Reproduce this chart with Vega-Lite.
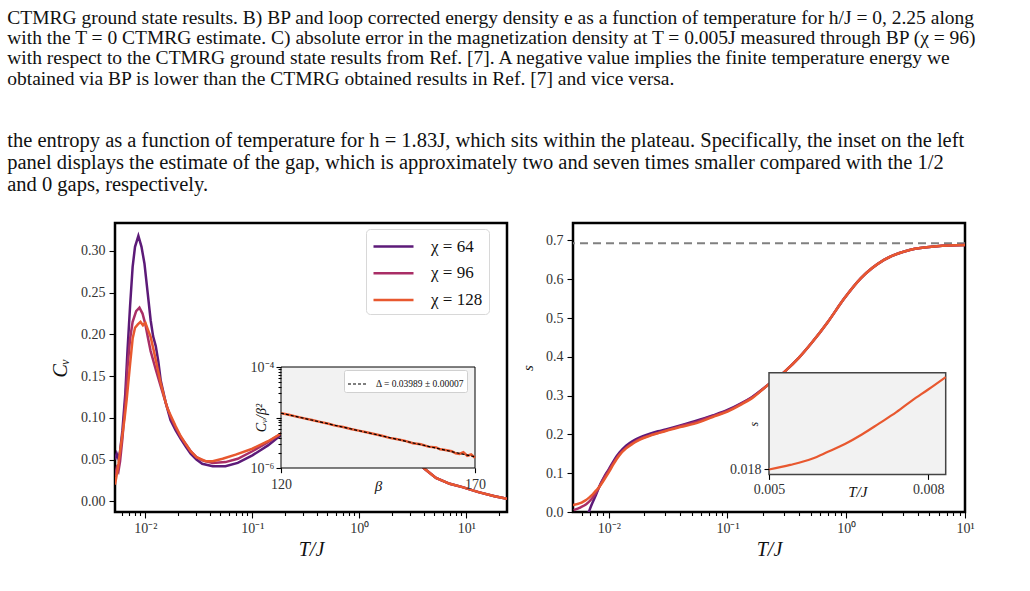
{
  "$schema": "https://vega.github.io/schema/vega-lite/v6.json",
  "padding": {"left": 7, "top": 7, "right": 4, "bottom": 4},
  "background": "white",
  "title": {
    "text": [
      "CTMRG ground state results. B) BP and loop corrected energy density e as a function of temperature for h/J = 0, 2.25 along",
      "with the T = 0 CTMRG estimate. C) absolute error in the magnetization density at T = 0.005J measured through BP (χ = 96)",
      "with respect to the CTMRG ground state results from Ref. [7]. A negative value implies the finite temperature energy we",
      "obtained via BP is lower than the CTMRG obtained results in Ref. [7] and vice versa."
    ],
    "subtitle": [
      "the entropy as a function of temperature for h = 1.83J, which sits within the plateau. Specifically, the inset on the left",
      "panel displays the estimate of the gap, which is approximately two and seven times smaller compared with the 1/2",
      "and 0 gaps, respectively."
    ],
    "anchor": "start",
    "frame": "bounds",
    "dx": -42,
    "font": "Liberation Serif",
    "fontSize": 19.5,
    "fontWeight": "normal",
    "color": "#111111",
    "lineHeight": 20.3,
    "subtitleFont": "Liberation Serif",
    "subtitleFontSize": 20.5,
    "subtitleColor": "#111111",
    "subtitleLineHeight": 22,
    "subtitlePadding": 42,
    "offset": 25
  },
  "datasets": {
    "cv": [
      {"T": 0.0052, "Cv": 0.050, "chi": "χ = 64"},
      {"T": 0.0054, "Cv": 0.057, "chi": "χ = 64"},
      {"T": 0.0056, "Cv": 0.051, "chi": "χ = 64"},
      {"T": 0.0058, "Cv": 0.060, "chi": "χ = 64"},
      {"T": 0.0061, "Cv": 0.085, "chi": "χ = 64"},
      {"T": 0.0065, "Cv": 0.130, "chi": "χ = 64"},
      {"T": 0.0068, "Cv": 0.180, "chi": "χ = 64"},
      {"T": 0.0072, "Cv": 0.235, "chi": "χ = 64"},
      {"T": 0.0076, "Cv": 0.281, "chi": "χ = 64"},
      {"T": 0.0080, "Cv": 0.305, "chi": "χ = 64"},
      {"T": 0.0086, "Cv": 0.318, "chi": "χ = 64"},
      {"T": 0.0092, "Cv": 0.305, "chi": "χ = 64"},
      {"T": 0.0098, "Cv": 0.285, "chi": "χ = 64"},
      {"T": 0.0105, "Cv": 0.250, "chi": "χ = 64"},
      {"T": 0.0112, "Cv": 0.217, "chi": "χ = 64"},
      {"T": 0.0118, "Cv": 0.198, "chi": "χ = 64"},
      {"T": 0.0125, "Cv": 0.186, "chi": "χ = 64"},
      {"T": 0.0132, "Cv": 0.168, "chi": "χ = 64"},
      {"T": 0.0139, "Cv": 0.145, "chi": "χ = 64"},
      {"T": 0.0155, "Cv": 0.118, "chi": "χ = 64"},
      {"T": 0.0172, "Cv": 0.097, "chi": "χ = 64"},
      {"T": 0.0192, "Cv": 0.085, "chi": "χ = 64"},
      {"T": 0.0214, "Cv": 0.075, "chi": "χ = 64"},
      {"T": 0.0240, "Cv": 0.065, "chi": "χ = 64"},
      {"T": 0.0265, "Cv": 0.057, "chi": "χ = 64"},
      {"T": 0.0300, "Cv": 0.050, "chi": "χ = 64"},
      {"T": 0.0340, "Cv": 0.045, "chi": "χ = 64"},
      {"T": 0.0426, "Cv": 0.042, "chi": "χ = 64"},
      {"T": 0.0560, "Cv": 0.042, "chi": "χ = 64"},
      {"T": 0.0730, "Cv": 0.046, "chi": "χ = 64"},
      {"T": 0.1000, "Cv": 0.055, "chi": "χ = 64"},
      {"T": 0.1400, "Cv": 0.067, "chi": "χ = 64"},
      {"T": 0.1840, "Cv": 0.079, "chi": "χ = 64"},
      {"T": 0.25, "Cv": 0.092, "chi": "χ = 64"},
      {"T": 0.35, "Cv": 0.105, "chi": "χ = 64"},
      {"T": 0.5, "Cv": 0.115, "chi": "χ = 64"},
      {"T": 0.7, "Cv": 0.120, "chi": "χ = 64"},
      {"T": 1.0, "Cv": 0.118, "chi": "χ = 64"},
      {"T": 1.4, "Cv": 0.105, "chi": "χ = 64"},
      {"T": 2.0, "Cv": 0.085, "chi": "χ = 64"},
      {"T": 2.8, "Cv": 0.062, "chi": "χ = 64"},
      {"T": 4.07, "Cv": 0.039, "chi": "χ = 64"},
      {"T": 5.2, "Cv": 0.028, "chi": "χ = 64"},
      {"T": 7.0, "Cv": 0.021, "chi": "χ = 64"},
      {"T": 9.2, "Cv": 0.017, "chi": "χ = 64"},
      {"T": 13, "Cv": 0.011, "chi": "χ = 64"},
      {"T": 18.4, "Cv": 0.006, "chi": "χ = 64"},
      {"T": 24, "Cv": 0.003, "chi": "χ = 64"},

      {"T": 0.0052, "Cv": 0.030, "chi": "χ = 96"},
      {"T": 0.0054, "Cv": 0.040, "chi": "χ = 96"},
      {"T": 0.0056, "Cv": 0.036, "chi": "χ = 96"},
      {"T": 0.0058, "Cv": 0.048, "chi": "χ = 96"},
      {"T": 0.0061, "Cv": 0.075, "chi": "χ = 96"},
      {"T": 0.0065, "Cv": 0.120, "chi": "χ = 96"},
      {"T": 0.0068, "Cv": 0.160, "chi": "χ = 96"},
      {"T": 0.0072, "Cv": 0.195, "chi": "χ = 96"},
      {"T": 0.0076, "Cv": 0.215, "chi": "χ = 96"},
      {"T": 0.0082, "Cv": 0.228, "chi": "χ = 96"},
      {"T": 0.0088, "Cv": 0.232, "chi": "χ = 96"},
      {"T": 0.0094, "Cv": 0.225, "chi": "χ = 96"},
      {"T": 0.0100, "Cv": 0.212, "chi": "χ = 96"},
      {"T": 0.0106, "Cv": 0.195, "chi": "χ = 96"},
      {"T": 0.0112, "Cv": 0.180, "chi": "χ = 96"},
      {"T": 0.0125, "Cv": 0.158, "chi": "χ = 96"},
      {"T": 0.0139, "Cv": 0.138, "chi": "χ = 96"},
      {"T": 0.0155, "Cv": 0.118, "chi": "χ = 96"},
      {"T": 0.0172, "Cv": 0.101, "chi": "χ = 96"},
      {"T": 0.0192, "Cv": 0.088, "chi": "χ = 96"},
      {"T": 0.0214, "Cv": 0.077, "chi": "χ = 96"},
      {"T": 0.0240, "Cv": 0.068, "chi": "χ = 96"},
      {"T": 0.0265, "Cv": 0.060, "chi": "χ = 96"},
      {"T": 0.0300, "Cv": 0.053, "chi": "χ = 96"},
      {"T": 0.0340, "Cv": 0.049, "chi": "χ = 96"},
      {"T": 0.0426, "Cv": 0.046, "chi": "χ = 96"},
      {"T": 0.0560, "Cv": 0.047, "chi": "χ = 96"},
      {"T": 0.0730, "Cv": 0.051, "chi": "χ = 96"},
      {"T": 0.1000, "Cv": 0.060, "chi": "χ = 96"},
      {"T": 0.1400, "Cv": 0.071, "chi": "χ = 96"},
      {"T": 0.1840, "Cv": 0.081, "chi": "χ = 96"},
      {"T": 0.25, "Cv": 0.093, "chi": "χ = 96"},
      {"T": 0.35, "Cv": 0.105, "chi": "χ = 96"},
      {"T": 0.5, "Cv": 0.115, "chi": "χ = 96"},
      {"T": 0.7, "Cv": 0.120, "chi": "χ = 96"},
      {"T": 1.0, "Cv": 0.118, "chi": "χ = 96"},
      {"T": 1.4, "Cv": 0.105, "chi": "χ = 96"},
      {"T": 2.0, "Cv": 0.085, "chi": "χ = 96"},
      {"T": 2.8, "Cv": 0.062, "chi": "χ = 96"},
      {"T": 4.07, "Cv": 0.039, "chi": "χ = 96"},
      {"T": 5.2, "Cv": 0.028, "chi": "χ = 96"},
      {"T": 7.0, "Cv": 0.021, "chi": "χ = 96"},
      {"T": 9.2, "Cv": 0.017, "chi": "χ = 96"},
      {"T": 13, "Cv": 0.011, "chi": "χ = 96"},
      {"T": 18.4, "Cv": 0.006, "chi": "χ = 96"},
      {"T": 24, "Cv": 0.003, "chi": "χ = 96"},

      {"T": 0.0052, "Cv": 0.020, "chi": "χ = 128"},
      {"T": 0.0054, "Cv": 0.032, "chi": "χ = 128"},
      {"T": 0.0056, "Cv": 0.045, "chi": "χ = 128"},
      {"T": 0.0058, "Cv": 0.060, "chi": "χ = 128"},
      {"T": 0.0061, "Cv": 0.080, "chi": "χ = 128"},
      {"T": 0.0064, "Cv": 0.100, "chi": "χ = 128"},
      {"T": 0.0067, "Cv": 0.123, "chi": "χ = 128"},
      {"T": 0.0072, "Cv": 0.165, "chi": "χ = 128"},
      {"T": 0.0076, "Cv": 0.195, "chi": "χ = 128"},
      {"T": 0.0080, "Cv": 0.208, "chi": "χ = 128"},
      {"T": 0.0085, "Cv": 0.212, "chi": "χ = 128"},
      {"T": 0.0090, "Cv": 0.215, "chi": "χ = 128"},
      {"T": 0.0095, "Cv": 0.211, "chi": "χ = 128"},
      {"T": 0.0100, "Cv": 0.214, "chi": "χ = 128"},
      {"T": 0.0106, "Cv": 0.205, "chi": "χ = 128"},
      {"T": 0.0112, "Cv": 0.197, "chi": "χ = 128"},
      {"T": 0.0120, "Cv": 0.180, "chi": "χ = 128"},
      {"T": 0.0128, "Cv": 0.163, "chi": "χ = 128"},
      {"T": 0.0139, "Cv": 0.142, "chi": "χ = 128"},
      {"T": 0.0150, "Cv": 0.125, "chi": "χ = 128"},
      {"T": 0.0160, "Cv": 0.112, "chi": "χ = 128"},
      {"T": 0.0172, "Cv": 0.103, "chi": "χ = 128"},
      {"T": 0.0192, "Cv": 0.090, "chi": "χ = 128"},
      {"T": 0.0214, "Cv": 0.078, "chi": "χ = 128"},
      {"T": 0.0240, "Cv": 0.068, "chi": "χ = 128"},
      {"T": 0.0265, "Cv": 0.060, "chi": "χ = 128"},
      {"T": 0.0300, "Cv": 0.053, "chi": "χ = 128"},
      {"T": 0.0366, "Cv": 0.048, "chi": "χ = 128"},
      {"T": 0.0426, "Cv": 0.048, "chi": "χ = 128"},
      {"T": 0.0527, "Cv": 0.051, "chi": "χ = 128"},
      {"T": 0.0698, "Cv": 0.056, "chi": "χ = 128"},
      {"T": 0.1000, "Cv": 0.063, "chi": "χ = 128"},
      {"T": 0.1400, "Cv": 0.072, "chi": "χ = 128"},
      {"T": 0.1840, "Cv": 0.081, "chi": "χ = 128"},
      {"T": 0.25, "Cv": 0.093, "chi": "χ = 128"},
      {"T": 0.35, "Cv": 0.105, "chi": "χ = 128"},
      {"T": 0.5, "Cv": 0.115, "chi": "χ = 128"},
      {"T": 0.7, "Cv": 0.120, "chi": "χ = 128"},
      {"T": 1.0, "Cv": 0.118, "chi": "χ = 128"},
      {"T": 1.4, "Cv": 0.105, "chi": "χ = 128"},
      {"T": 2.0, "Cv": 0.085, "chi": "χ = 128"},
      {"T": 2.8, "Cv": 0.062, "chi": "χ = 128"},
      {"T": 4.07, "Cv": 0.039, "chi": "χ = 128"},
      {"T": 5.2, "Cv": 0.028, "chi": "χ = 128"},
      {"T": 7.0, "Cv": 0.021, "chi": "χ = 128"},
      {"T": 9.2, "Cv": 0.017, "chi": "χ = 128"},
      {"T": 13, "Cv": 0.011, "chi": "χ = 128"},
      {"T": 18.4, "Cv": 0.006, "chi": "χ = 128"},
      {"T": 24, "Cv": 0.003, "chi": "χ = 128"}
    ],
    "gap": [
      {"beta": 120, "cb": 0.0000122},
      {"beta": 122, "cb": 0.0000113},
      {"beta": 124, "cb": 0.0000104},
      {"beta": 126, "cb": 0.0000096},
      {"beta": 128, "cb": 0.0000089},
      {"beta": 130, "cb": 0.0000082},
      {"beta": 132, "cb": 0.0000076},
      {"beta": 134, "cb": 0.0000069},
      {"beta": 136, "cb": 0.0000065},
      {"beta": 138, "cb": 0.0000059},
      {"beta": 140, "cb": 0.0000055},
      {"beta": 142, "cb": 0.0000051},
      {"beta": 144, "cb": 0.0000047},
      {"beta": 146, "cb": 0.00000435},
      {"beta": 148, "cb": 0.00000395},
      {"beta": 150, "cb": 0.0000037},
      {"beta": 152, "cb": 0.00000345},
      {"beta": 154, "cb": 0.0000031},
      {"beta": 156, "cb": 0.00000295},
      {"beta": 158, "cb": 0.00000265},
      {"beta": 160, "cb": 0.00000255},
      {"beta": 161, "cb": 0.00000235},
      {"beta": 162, "cb": 0.0000023},
      {"beta": 164, "cb": 0.00000215},
      {"beta": 165, "cb": 0.00000195},
      {"beta": 166, "cb": 0.0000019},
      {"beta": 167, "cb": 0.00000205},
      {"beta": 168, "cb": 0.00000175},
      {"beta": 169, "cb": 0.00000185},
      {"beta": 170, "cb": 0.0000016}
    ],
    "gapfit": [
      {"beta": 120, "cb": 0.0000122, "fit": "Δ = 0.03989 ± 0.00007"},
      {"beta": 170, "cb": 0.00000166, "fit": "Δ = 0.03989 ± 0.00007"}
    ],
    "entropy": [
      {"T": 0.0066, "s": -0.010, "chi": "χ = 64"},
      {"T": 0.0072, "s": 0.020, "chi": "χ = 64"},
      {"T": 0.0078, "s": 0.044, "chi": "χ = 64"},
      {"T": 0.0085, "s": 0.072, "chi": "χ = 64"},
      {"T": 0.0092, "s": 0.092, "chi": "χ = 64"},
      {"T": 0.0100, "s": 0.110, "chi": "χ = 64"},
      {"T": 0.0110, "s": 0.132, "chi": "χ = 64"},
      {"T": 0.0123, "s": 0.153, "chi": "χ = 64"},
      {"T": 0.0140, "s": 0.171, "chi": "χ = 64"},
      {"T": 0.0159, "s": 0.183, "chi": "χ = 64"},
      {"T": 0.0185, "s": 0.193, "chi": "χ = 64"},
      {"T": 0.0219, "s": 0.201, "chi": "χ = 64"},
      {"T": 0.0260, "s": 0.208, "chi": "χ = 64"},
      {"T": 0.0302, "s": 0.213, "chi": "χ = 64"},
      {"T": 0.0400, "s": 0.223, "chi": "χ = 64"},
      {"T": 0.0572, "s": 0.237, "chi": "χ = 64"},
      {"T": 0.0750, "s": 0.249, "chi": "χ = 64"},
      {"T": 0.1000, "s": 0.263, "chi": "χ = 64"},
      {"T": 0.1300, "s": 0.280, "chi": "χ = 64"},
      {"T": 0.1600, "s": 0.296, "chi": "χ = 64"},
      {"T": 0.2200, "s": 0.328, "chi": "χ = 64"},
      {"T": 0.303, "s": 0.362, "chi": "χ = 64"},
      {"T": 0.400, "s": 0.398, "chi": "χ = 64"},
      {"T": 0.508, "s": 0.435, "chi": "χ = 64"},
      {"T": 0.700, "s": 0.490, "chi": "χ = 64"},
      {"T": 0.964, "s": 0.551, "chi": "χ = 64"},
      {"T": 1.33, "s": 0.603, "chi": "χ = 64"},
      {"T": 2.08, "s": 0.650, "chi": "χ = 64"},
      {"T": 3.48, "s": 0.676, "chi": "χ = 64"},
      {"T": 5.81, "s": 0.685, "chi": "χ = 64"},
      {"T": 10, "s": 0.688, "chi": "χ = 64"},

      {"T": 0.00506, "s": 0.005, "chi": "χ = 96"},
      {"T": 0.0058, "s": 0.012, "chi": "χ = 96"},
      {"T": 0.00646, "s": 0.020, "chi": "χ = 96"},
      {"T": 0.0072, "s": 0.034, "chi": "χ = 96"},
      {"T": 0.00783, "s": 0.050, "chi": "χ = 96"},
      {"T": 0.0085, "s": 0.070, "chi": "χ = 96"},
      {"T": 0.0092, "s": 0.090, "chi": "χ = 96"},
      {"T": 0.0100, "s": 0.107, "chi": "χ = 96"},
      {"T": 0.0110, "s": 0.128, "chi": "χ = 96"},
      {"T": 0.0123, "s": 0.149, "chi": "χ = 96"},
      {"T": 0.0140, "s": 0.166, "chi": "χ = 96"},
      {"T": 0.0159, "s": 0.178, "chi": "χ = 96"},
      {"T": 0.0185, "s": 0.189, "chi": "χ = 96"},
      {"T": 0.0219, "s": 0.197, "chi": "χ = 96"},
      {"T": 0.0260, "s": 0.204, "chi": "χ = 96"},
      {"T": 0.0302, "s": 0.210, "chi": "χ = 96"},
      {"T": 0.0400, "s": 0.221, "chi": "χ = 96"},
      {"T": 0.0572, "s": 0.234, "chi": "χ = 96"},
      {"T": 0.0750, "s": 0.247, "chi": "χ = 96"},
      {"T": 0.1000, "s": 0.261, "chi": "χ = 96"},
      {"T": 0.1300, "s": 0.279, "chi": "χ = 96"},
      {"T": 0.1600, "s": 0.295, "chi": "χ = 96"},
      {"T": 0.2200, "s": 0.328, "chi": "χ = 96"},
      {"T": 0.303, "s": 0.362, "chi": "χ = 96"},
      {"T": 0.400, "s": 0.398, "chi": "χ = 96"},
      {"T": 0.508, "s": 0.435, "chi": "χ = 96"},
      {"T": 0.700, "s": 0.490, "chi": "χ = 96"},
      {"T": 0.964, "s": 0.551, "chi": "χ = 96"},
      {"T": 1.33, "s": 0.603, "chi": "χ = 96"},
      {"T": 2.08, "s": 0.650, "chi": "χ = 96"},
      {"T": 3.48, "s": 0.676, "chi": "χ = 96"},
      {"T": 5.81, "s": 0.685, "chi": "χ = 96"},
      {"T": 10, "s": 0.688, "chi": "χ = 96"},

      {"T": 0.00500, "s": 0.0180, "chi": "χ = 128"},
      {"T": 0.00540, "s": 0.0203, "chi": "χ = 128"},
      {"T": 0.00581, "s": 0.0234, "chi": "χ = 128"},
      {"T": 0.00610, "s": 0.0268, "chi": "χ = 128"},
      {"T": 0.00644, "s": 0.0310, "chi": "χ = 128"},
      {"T": 0.00675, "s": 0.0357, "chi": "χ = 128"},
      {"T": 0.00707, "s": 0.0412, "chi": "χ = 128"},
      {"T": 0.00740, "s": 0.0470, "chi": "χ = 128"},
      {"T": 0.00770, "s": 0.0530, "chi": "χ = 128"},
      {"T": 0.00800, "s": 0.0585, "chi": "χ = 128"},
      {"T": 0.00833, "s": 0.0648, "chi": "χ = 128"},
      {"T": 0.0090, "s": 0.080, "chi": "χ = 128"},
      {"T": 0.0100, "s": 0.102, "chi": "χ = 128"},
      {"T": 0.0110, "s": 0.124, "chi": "χ = 128"},
      {"T": 0.01227, "s": 0.146, "chi": "χ = 128"},
      {"T": 0.0140, "s": 0.164, "chi": "χ = 128"},
      {"T": 0.0159, "s": 0.176, "chi": "χ = 128"},
      {"T": 0.0185, "s": 0.187, "chi": "χ = 128"},
      {"T": 0.0219, "s": 0.196, "chi": "χ = 128"},
      {"T": 0.0260, "s": 0.203, "chi": "χ = 128"},
      {"T": 0.0302, "s": 0.209, "chi": "χ = 128"},
      {"T": 0.0400, "s": 0.219, "chi": "χ = 128"},
      {"T": 0.0572, "s": 0.231, "chi": "χ = 128"},
      {"T": 0.0750, "s": 0.245, "chi": "χ = 128"},
      {"T": 0.1000, "s": 0.259, "chi": "χ = 128"},
      {"T": 0.1300, "s": 0.277, "chi": "χ = 128"},
      {"T": 0.1600, "s": 0.293, "chi": "χ = 128"},
      {"T": 0.2200, "s": 0.328, "chi": "χ = 128"},
      {"T": 0.303, "s": 0.362, "chi": "χ = 128"},
      {"T": 0.400, "s": 0.398, "chi": "χ = 128"},
      {"T": 0.508, "s": 0.435, "chi": "χ = 128"},
      {"T": 0.700, "s": 0.490, "chi": "χ = 128"},
      {"T": 0.964, "s": 0.551, "chi": "χ = 128"},
      {"T": 1.33, "s": 0.603, "chi": "χ = 128"},
      {"T": 2.08, "s": 0.650, "chi": "χ = 128"},
      {"T": 3.48, "s": 0.676, "chi": "χ = 128"},
      {"T": 5.81, "s": 0.685, "chi": "χ = 128"},
      {"T": 10, "s": 0.688, "chi": "χ = 128"}
    ],
    "entropyLowT": [
      {"T": 0.00500, "s": 0.0180},
      {"T": 0.00540, "s": 0.0203},
      {"T": 0.00581, "s": 0.0234},
      {"T": 0.00610, "s": 0.0268},
      {"T": 0.00644, "s": 0.0310},
      {"T": 0.00675, "s": 0.0357},
      {"T": 0.00707, "s": 0.0412},
      {"T": 0.00740, "s": 0.0470},
      {"T": 0.00770, "s": 0.0530},
      {"T": 0.00800, "s": 0.0585},
      {"T": 0.00833, "s": 0.0648}
    ]
  },
  "hconcat": [
    {
      "width": 392,
      "height": 289,
      "layer": [
        {
          "data": {"name": "cv"},
          "mark": {"type": "line", "strokeWidth": 2.5, "clip": true},
          "encoding": {
            "x": {
              "field": "T", "type": "quantitative",
              "scale": {"type": "log", "domain": [0.0052, 24], "nice": false},
              "axis": {
                "title": "T/J", "titleFontStyle": "italic", "titleFontSize": 20, "titlePadding": 4,
                "values": [0.006, 0.007, 0.008, 0.009, 0.01, 0.02, 0.03, 0.04, 0.05, 0.06, 0.07, 0.08, 0.09, 0.1, 0.2, 0.3, 0.4, 0.5, 0.6, 0.7, 0.8, 0.9, 1, 2, 3, 4, 5, 6, 7, 8, 9, 10, 20],
                "labelExpr": "abs(log(datum.value)/LN10 - round(log(datum.value)/LN10)) < 0.01 ? '10' + (round(log(datum.value)/LN10) == -2 ? '⁻²' : round(log(datum.value)/LN10) == -1 ? '⁻¹' : round(log(datum.value)/LN10) == 0 ? '⁰' : '¹') : ''",
                "tickSize": {"condition": {"test": "abs(log(datum.value)/LN10 - round(log(datum.value)/LN10)) < 0.01", "value": 6}, "value": 3.5},
                "labelOverlap": false, "labelPadding": 3, "labelFont": "Liberation Serif", "labelFontSize": 14
              }
            },
            "y": {
              "field": "Cv", "type": "quantitative",
              "scale": {"domain": [-0.0128, 0.3335], "nice": false, "zero": false},
              "axis": {"title": "Cᵥ", "titleFontStyle": "italic", "titleFontSize": 20, "titlePadding": 10, "values": [0, 0.05, 0.1, 0.15, 0.2, 0.25, 0.3], "format": ".2f", "tickSize": 6, "labelPadding": 4, "labelFont": "Liberation Serif"}
            },
            "color": {
              "field": "chi", "type": "nominal",
              "scale": {"domain": ["χ = 64", "χ = 96", "χ = 128"], "range": ["#5c1a78", "#a92e66", "#e8582f"]},
              "legend": {
                "orient": "none", "legendX": 251, "legendY": 6, "title": null,
                "symbolType": "M-1,0H3", "symbolSize": 400, "symbolStrokeWidth": 2.5,
                "labelFontSize": 17, "labelFont": "Liberation Serif", "labelColor": "#111111", "labelOffset": 36,
                "padding": 6, "rowPadding": 6.7, "fillColor": "white", "strokeColor": "#d8d8d8", "cornerRadius": 4
              }
            }
          }
        },
        {
          "layer": [
            {
              "data": {"values": [{"b0": 120, "b1": 170, "c0": 0.000001, "c1": 0.0001}]},
              "mark": {"type": "rect", "fill": "#f2f2f2", "stroke": "black", "strokeWidth": 1},
              "encoding": {
                "x": {
                  "field": "b0", "type": "quantitative",
                  "scale": {"domain": [120, 170], "range": [166, 360], "nice": false, "zero": false},
                  "axis": {"orient": "bottom", "offset": -44.3, "zindex": 2, "values": [120, 170], "title": "β", "titleFontStyle": "italic", "titleFontSize": 15, "titleY": 11, "titleBaseline": "top", "tickSize": 5, "labelFontSize": 14, "labelPadding": 5, "labelFont": "Liberation Serif"}
                },
                "x2": {"field": "b1"},
                "y": {
                  "field": "c0", "type": "quantitative",
                  "scale": {"type": "log", "domain": [0.000001, 0.0001], "range": [245, 144], "nice": false},
                  "axis": {
                    "orient": "left", "offset": -166, "zindex": 2,
                    "values": [0.000001, 0.000002, 0.000003, 0.000004, 0.000005, 0.000006, 0.000007, 0.000008, 0.000009, 0.00001, 0.00002, 0.00003, 0.00004, 0.00005, 0.00006, 0.00007, 0.00008, 0.00009, 0.0001],
                    "labelExpr": "abs(datum.value - 0.0001) < 1e-9 ? '10⁻⁴' : abs(datum.value - 0.000001) < 1e-10 ? '10⁻⁶' : ''",
                    "tickSize": {"condition": {"test": "abs(log(datum.value)/LN10 - round(log(datum.value)/LN10)) < 0.01", "value": 5}, "value": 3},
                    "labelOverlap": false, "labelFontSize": 14, "labelPadding": 2, "labelFont": "Liberation Serif",
                    "title": "Cᵥ/β²", "titleFontStyle": "italic", "titleFontSize": 14, "titleX": -13
                  }
                },
                "y2": {"field": "c1"}
              }
            },
            {
              "data": {"name": "gap"},
              "mark": {"type": "line", "color": "#e8582f", "strokeWidth": 2.5},
              "encoding": {
                "x": {"field": "beta", "type": "quantitative"},
                "y": {"field": "cb", "type": "quantitative"}
              }
            },
            {
              "data": {"name": "gapfit"},
              "mark": {"type": "line", "color": "black", "strokeWidth": 1.2},
              "encoding": {
                "x": {"field": "beta", "type": "quantitative"},
                "y": {"field": "cb", "type": "quantitative"},
                "strokeDash": {
                  "field": "fit", "type": "nominal",
                  "scale": {"range": [[3, 2]]},
                  "legend": {
                    "orient": "none", "legendX": 229, "legendY": 147, "title": null,
                    "symbolType": "stroke", "symbolSize": 400, "symbolStrokeWidth": 1.2, "symbolStrokeColor": "black",
                    "labelFontSize": 9.5, "labelFont": "Liberation Serif", "labelColor": "#111111", "labelOffset": 7,
                    "padding": 3, "fillColor": "white", "strokeColor": "#d0d0d0", "cornerRadius": 2
                  }
                }
              }
            }
          ]
        }
      ],
      "resolve": {"scale": {"x": "independent", "y": "independent"}}
    },
    {
      "width": 392,
      "height": 289,
      "layer": [
        {
          "layer": [
            {
              "data": {"values": [{"ln2": 0.6931}]},
              "mark": {"type": "rule", "color": "#808080", "strokeWidth": 2, "strokeDash": [8, 5]},
              "encoding": {
                "y": {"field": "ln2", "type": "quantitative"}
              }
            },
            {
              "data": {"name": "entropy"},
              "mark": {"type": "line", "strokeWidth": 2.5, "clip": true, "interpolate": "monotone"},
              "encoding": {
                "x": {
                  "field": "T", "type": "quantitative",
                  "scale": {"type": "log", "domain": [0.005, 10], "nice": false},
                  "axis": {
                    "title": "T/J", "titleFontStyle": "italic", "titleFontSize": 20, "titlePadding": 4,
                    "values": [0.006, 0.007, 0.008, 0.009, 0.01, 0.02, 0.03, 0.04, 0.05, 0.06, 0.07, 0.08, 0.09, 0.1, 0.2, 0.3, 0.4, 0.5, 0.6, 0.7, 0.8, 0.9, 1, 2, 3, 4, 5, 6, 7, 8, 9, 10],
                    "labelExpr": "abs(log(datum.value)/LN10 - round(log(datum.value)/LN10)) < 0.01 ? '10' + (round(log(datum.value)/LN10) == -2 ? '⁻²' : round(log(datum.value)/LN10) == -1 ? '⁻¹' : round(log(datum.value)/LN10) == 0 ? '⁰' : '¹') : ''",
                    "tickSize": {"condition": {"test": "abs(log(datum.value)/LN10 - round(log(datum.value)/LN10)) < 0.01", "value": 6}, "value": 3.5},
                    "labelOverlap": false, "labelPadding": 3, "labelFont": "Liberation Serif", "labelFontSize": 14
                  }
                },
                "y": {
                  "field": "s", "type": "quantitative",
                  "scale": {"domain": [0, 0.745], "nice": false, "zero": false},
                  "axis": {"title": "s", "titleFontStyle": "italic", "titleFontSize": 15, "titlePadding": 10, "values": [0, 0.1, 0.2, 0.3, 0.4, 0.5, 0.6, 0.7], "format": ".1f", "tickSize": 6, "labelPadding": 4, "labelFont": "Liberation Serif"}
                },
                "color": {
                  "field": "chi", "type": "nominal",
                  "scale": {"domain": ["χ = 64", "χ = 96", "χ = 128"], "range": ["#5c1a78", "#a92e66", "#e8582f"]},
                  "legend": null
                }
              }
            }
          ]
        },
        {
          "layer": [
            {
              "data": {"values": [{"t0": 0.005, "t1": 0.00833, "s0": 0.0155, "s1": 0.067}]},
              "mark": {"type": "rect", "fill": "#f2f2f2", "stroke": "#444444", "strokeWidth": 1.5},
              "encoding": {
                "x": {
                  "field": "t0", "type": "quantitative",
                  "scale": {"domain": [0.005, 0.00833], "range": [196, 372.7], "nice": false, "zero": false},
                  "axis": {"orient": "bottom", "offset": -37.6, "zindex": 2, "values": [0.005, 0.008], "format": ".3f", "title": "T/J", "titleFontStyle": "italic", "titleFontSize": 15, "titleY": 10, "titleBaseline": "top", "tickSize": 5, "labelFontSize": 14, "labelPadding": 3, "labelFont": "Liberation Serif"}
                },
                "x2": {"field": "t1"},
                "y": {
                  "field": "s0", "type": "quantitative",
                  "scale": {"domain": [0.0155, 0.067], "range": [251.4, 149.7], "nice": false, "zero": false},
                  "axis": {"orient": "left", "offset": -196, "zindex": 2, "values": [0.018], "format": ".3f", "tickSize": 5, "labelFontSize": 14, "labelPadding": 3, "labelFont": "Liberation Serif", "title": "s", "titleFontStyle": "italic", "titleFontSize": 12, "titleX": -9}
                },
                "y2": {"field": "s1"}
              }
            },
            {
              "data": {"name": "entropyLowT"},
              "mark": {"type": "line", "color": "#e8582f", "strokeWidth": 2.2, "interpolate": "monotone"},
              "encoding": {
                "x": {"field": "T", "type": "quantitative"},
                "y": {"field": "s", "type": "quantitative"}
              }
            }
          ]
        }
      ],
      "resolve": {"scale": {"x": "independent", "y": "independent"}}
    }
  ],
  "spacing": 10,
  "resolve": {
    "scale": {"color": "independent", "strokeDash": "independent"},
    "legend": {"color": "independent", "strokeDash": "independent"}
  },
  "config": {
    "font": "Liberation Serif",
    "view": {"stroke": "black", "strokeWidth": 2.5},
    "style": {
      "guide-label": {"font": "Liberation Serif"},
      "guide-title": {"font": "Liberation Serif"}
    },
    "axis": {
      "domain": false, "grid": false, "tickColor": "black", "tickWidth": 1.1,
      "labelFont": "Liberation Serif", "labelFontSize": 14, "labelColor": "#333333",
      "titleFont": "Liberation Serif", "titleFontWeight": "normal", "titleColor": "#111111",
      "labelFlush": false, "labelBound": false
    },
    "legend": {"labelFont": "Liberation Serif"}
  }
}
